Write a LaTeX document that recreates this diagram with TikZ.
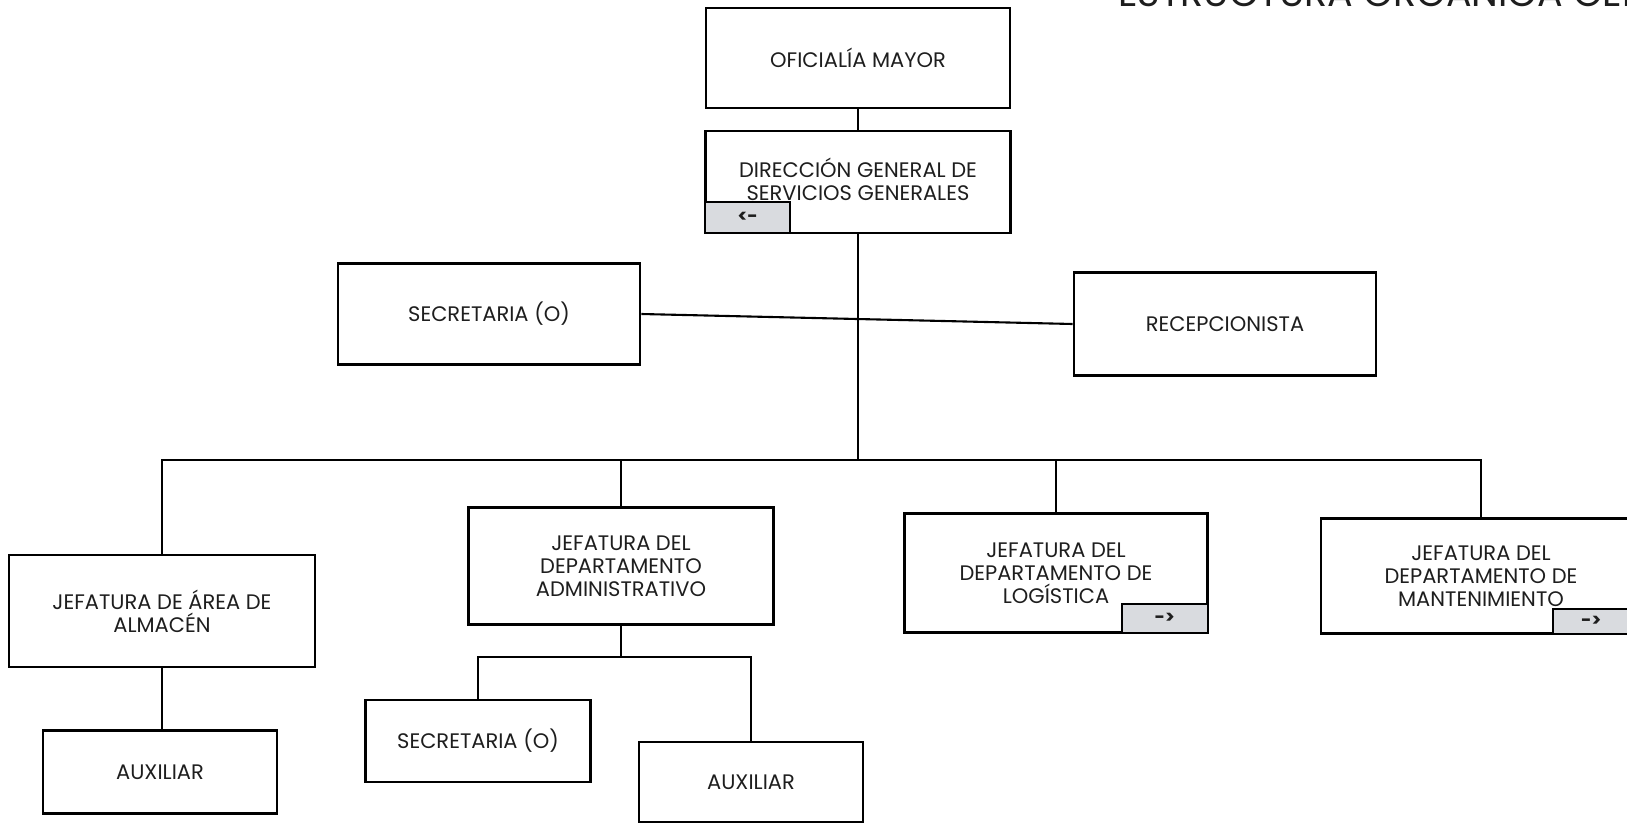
\documentclass[tikz,border=0pt]{standalone}
\usepackage{fontspec}
\setmainfont{Poppins}
\definecolor{txt}{HTML}{1E1E1E}
\definecolor{tabfill}{HTML}{D9DBDF}
\begin{document}
\begin{tikzpicture}[x=1pt,y=-1pt,
  box/.style={draw=black, line width=2.7pt, fill=white, align=center, inner sep=2pt,
    text=txt, font=\fontsize{21}{23}\selectfont},
  label text/.style={align=center, inner sep=0pt, text=txt, font=\fontsize{21}{23}\selectfont},
  tabbox/.style={draw=black, line width=2.2pt, fill=tabfill, text=txt,
    font=\fontsize{18}{20}\selectfont\bfseries, inner sep=0pt},
  conn/.style={draw=black, line width=2.1pt},
  hdr/.style={text=txt, font=\fontsize{38}{38}\selectfont, inner sep=0pt}]
\useasboundingbox (0,0) rectangle (1627,824);
\fill[white] (0,0) rectangle (1627,824);

% header (cut off at the top edge)
\node[hdr, anchor=base west] (title) at (1118,7) {ESTRUCTURA ORGÁNICA GENERAL};

% boxes
\node[box, minimum width=304pt, minimum height=100pt] (ofi) at (858,58) {OFICIALÍA MAYOR};
\node[box, minimum width=305pt, minimum height=102pt] (dgsg) at (858,182) {};
\node[label text] (dgsgtxt) at ([yshift=3pt]dgsg.center) {DIRECCIÓN GENERAL DE\\SERVICIOS GENERALES};
\node[box, minimum width=302pt, minimum height=101pt] (sec1) at (489,314) {SECRETARIA (O)};
\node[box, minimum width=302pt, minimum height=103pt] (rec) at (1225,324) {RECEPCIONISTA};
\node[box, minimum width=306pt, minimum height=112pt] (alm) at (162,611) {JEFATURA DE ÁREA DE\\ALMACÉN};
\node[box, minimum width=234pt, minimum height=83pt] (aux1) at (160,772) {AUXILIAR};
\node[box, minimum width=305pt, minimum height=117pt] (adm) at (621,566) {JEFATURA DEL\\DEPARTAMENTO\\ADMINISTRATIVO};
\node[box, minimum width=225pt, minimum height=82pt] (sec2) at (478,741) {SECRETARIA (O)};
\node[box, minimum width=224pt, minimum height=80pt] (aux2) at (751,782) {AUXILIAR};
\node[box, minimum width=303pt, minimum height=119pt] (log) at (1056,573) {JEFATURA DEL\\DEPARTAMENTO DE\\LOGÍSTICA};
\node[box, minimum width=320pt, minimum height=115pt] (man) at (1481,576) {JEFATURA DEL\\DEPARTAMENTO DE\\MANTENIMIENTO};

% navigation tabs
\node[tabbox, anchor=south west, minimum width=85pt, minimum height=31pt] (tabd) at (dgsg.south west) {<-};
\node[tabbox, anchor=south east, minimum width=86pt, minimum height=29pt] (tabl) at (log.south east) {->};
\node[tabbox, anchor=south east, minimum width=88pt, minimum height=25pt] (tabm) at (man.south east) {\hspace*{-12pt}->};

% connectors
\coordinate (bus) at (0,460);
\coordinate (sb) at (0,657);
\draw[conn] (ofi.south) -- (dgsg.north);
\draw[conn] (dgsg.south) -- (dgsg.south |- bus);
\draw[conn] (sec1.east) -- (rec.west);
\draw[conn] (alm.north) |- (man.north |- bus) -- (man.north);
\draw[conn] (adm.north) -- (adm.north |- bus);
\draw[conn] (log.north) -- (log.north |- bus);
\draw[conn] (alm.south) -- (alm.south |- aux1.north);
\draw[conn] (adm.south) -- (adm.south |- sb);
\draw[conn] (sec2.north) |- (aux2.north |- sb) -- (aux2.north);
\end{tikzpicture}
\end{document}
